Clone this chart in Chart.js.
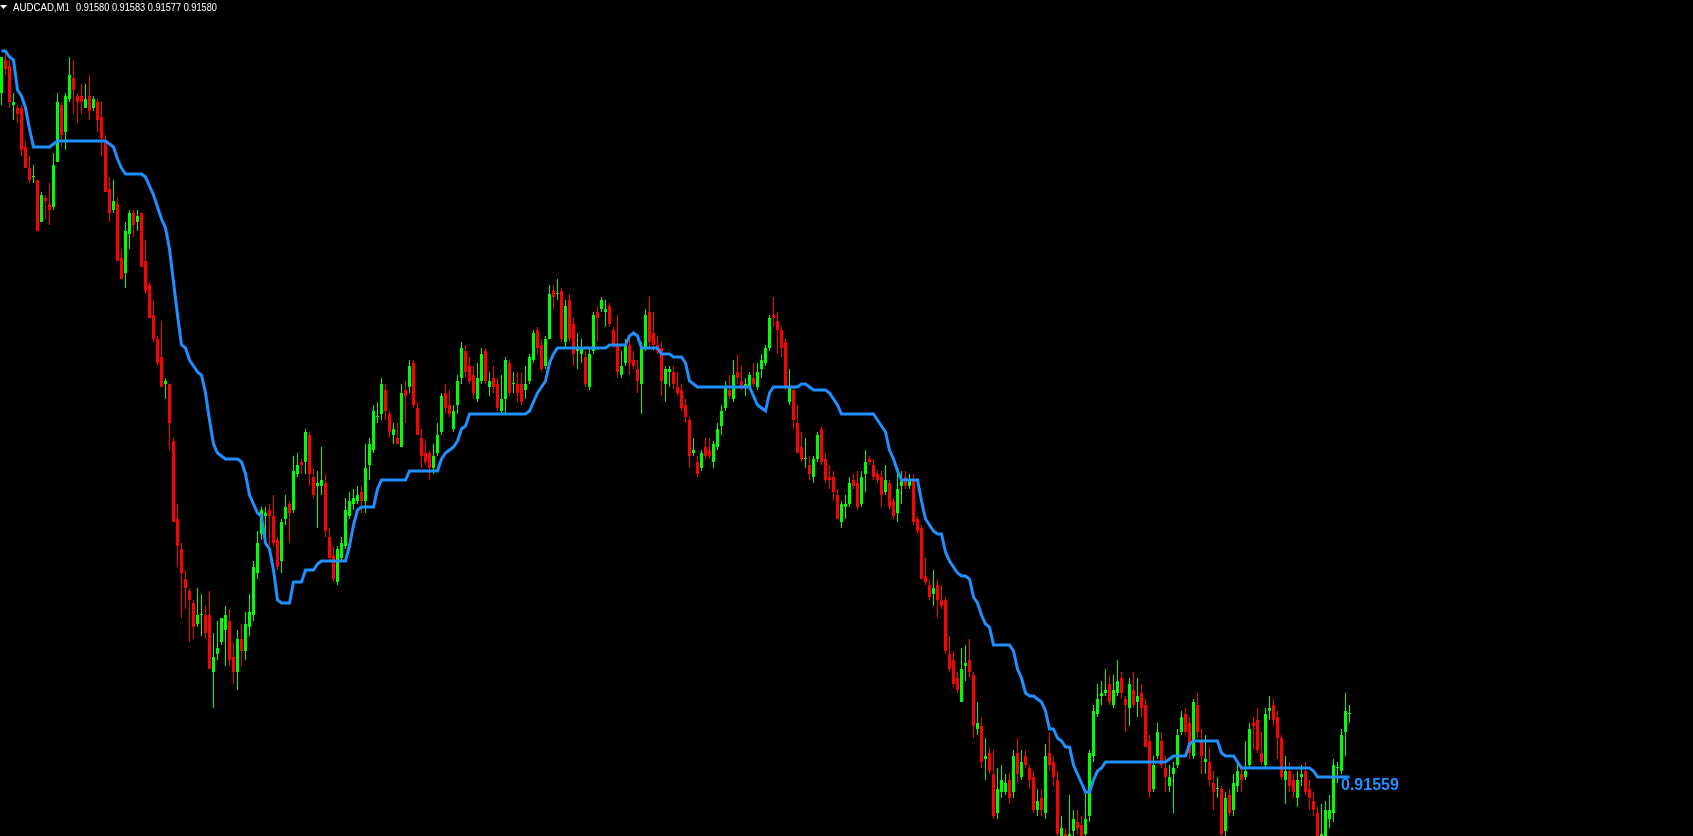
<!DOCTYPE html>
<html>
<head>
<meta charset="utf-8">
<title>AUDCAD,M1</title>
<script src="https://cdn.jsdelivr.net/npm/chart.js@4.4.1/dist/chart.umd.min.js"></script>
<style>
  html, body { margin: 0; padding: 0; background: #000; overflow: hidden; }
  #chart { display: block; }
</style>
</head>
<body>
<canvas id="chart" width="1693" height="836"></canvas>
<script>
// AUDCAD M1, one value per bar, oldest first
var symbol = "AUDCAD,M1";

var open = [
  0.91787,0.91798,0.91796,0.91783,0.91782,0.91782,0.91769,0.91762,0.91759,0.91758,
  0.91744,0.91752,0.91750,0.91749,0.91764,0.91783,0.91774,0.91785,0.91792,0.91786,
  0.91786,0.91782,0.91786,0.91782,0.91784,0.91779,0.91771,0.91755,0.91748,0.91750,
  0.91732,0.91727,0.91740,0.91747,0.91744,0.91747,0.91731,0.91723,0.91713,0.91705,
  0.91699,0.91690,0.91690,0.91671,0.91645,0.91635,0.91625,0.91621,0.91617,0.91610,
  0.91613,0.91613,0.91613,0.91594,0.91600,0.91604,0.91608,0.91611,0.91599,0.91594,
  0.91605,0.91601,0.91609,0.91613,0.91627,0.91640,0.91646,0.91648,0.91646,0.91638,
  0.91631,0.91645,0.91650,0.91648,0.91660,0.91664,0.91664,0.91673,0.91659,0.91656,
  0.91656,0.91657,0.91639,0.91633,0.91624,0.91632,0.91636,0.91646,0.91650,0.91651,
  0.91654,0.91651,0.91663,0.91668,0.91679,0.91680,0.91688,0.91680,0.91673,0.91672,
  0.91669,0.91688,0.91689,0.91697,0.91682,0.91672,0.91667,0.91667,0.91662,0.91667,
  0.91674,0.91687,0.91683,0.91675,0.91683,0.91692,0.91701,0.91696,0.91693,0.91685,
  0.91691,0.91701,0.91689,0.91692,0.91690,0.91681,0.91685,0.91697,0.91690,0.91690,
  0.91690,0.91688,0.91691,0.91698,0.91708,0.91703,0.91696,0.91705,0.91721,0.91720,
  0.91721,0.91704,0.91718,0.91710,0.91701,0.91700,0.91699,0.91689,0.91701,0.91714,
  0.91715,0.91714,0.91716,0.91708,0.91703,0.91693,0.91697,0.91703,0.91698,0.91695,
  0.91690,0.91702,0.91714,0.91707,0.91703,0.91702,0.91690,0.91694,0.91694,0.91689,
  0.91688,0.91683,0.91678,0.91667,0.91664,0.91662,0.91669,0.91668,0.91664,0.91669,
  0.91676,0.91682,0.91688,0.91685,0.91694,0.91691,0.91689,0.91689,0.91692,0.91689,
  0.91695,0.91697,0.91702,0.91713,0.91711,0.91708,0.91704,0.91684,0.91688,0.91677,
  0.91669,0.91665,0.91663,0.91659,0.91665,0.91675,0.91665,0.91659,0.91659,0.91653,
  0.91644,0.91649,0.91650,0.91658,0.91657,0.91650,0.91660,0.91665,0.91663,0.91660,
  0.91659,0.91654,0.91657,0.91651,0.91647,0.91656,0.91659,0.91656,0.91658,0.91645,
  0.91642,0.91626,0.91623,0.91620,0.91623,0.91618,0.91618,0.91600,0.91598,0.91592,
  0.91584,0.91596,0.91598,0.91593,0.91575,0.91576,0.91565,0.91567,0.91560,0.91547,
  0.91554,0.91554,0.91558,0.91554,0.91567,0.91559,0.91566,0.91562,0.91559,0.91548,
  0.91552,0.91547,0.91567,0.91564,0.91558,0.91539,0.91540,0.91538,0.91541,0.91544,
  0.91543,0.91540,0.91546,0.91566,0.91580,0.91586,0.91587,0.91590,0.91583,0.91587,
  0.91592,0.91585,0.91582,0.91588,0.91584,0.91587,0.91583,0.91571,0.91555,0.91566,
  0.91571,0.91562,0.91556,0.91560,0.91563,0.91574,0.91580,0.91577,0.91566,0.91583,
  0.91571,0.91564,0.91564,0.91557,0.91555,0.91555,0.91541,0.91553,0.91548,0.91556,
  0.91560,0.91559,0.91563,0.91577,0.91578,0.91567,0.91563,0.91581,0.91583,0.91579,
  0.91572,0.91558,0.91561,0.91558,0.91552,0.91559,0.91561,0.91555,0.91551,0.91547,
  0.91539,0.91539,0.91545,0.91547,0.91562,0.91561,0.91574,0.91580
];

var high = [
  0.91799,0.91801,0.91798,0.91787,0.91783,0.91783,0.91771,0.91766,0.91763,0.91758,
  0.91754,0.91753,0.91757,0.91767,0.91787,0.91784,0.91787,0.91799,0.91798,0.91787,
  0.91790,0.91790,0.91793,0.91786,0.91785,0.91784,0.91773,0.91759,0.91758,0.91752,
  0.91735,0.91744,0.91748,0.91748,0.91748,0.91747,0.91738,0.91724,0.91718,0.91706,
  0.91711,0.91692,0.91690,0.91672,0.91650,0.91637,0.91628,0.91622,0.91618,0.91622,
  0.91620,0.91616,0.91621,0.91607,0.91611,0.91612,0.91616,0.91615,0.91604,0.91608,
  0.91610,0.91614,0.91620,0.91631,0.91641,0.91649,0.91649,0.91650,0.91653,0.91639,
  0.91645,0.91653,0.91651,0.91666,0.91667,0.91665,0.91675,0.91674,0.91662,0.91661,
  0.91669,0.91660,0.91642,0.91636,0.91636,0.91639,0.91652,0.91654,0.91655,0.91656,
  0.91656,0.91670,0.91672,0.91683,0.91684,0.91692,0.91690,0.91681,0.91677,0.91677,
  0.91690,0.91691,0.91698,0.91698,0.91684,0.91675,0.91671,0.91668,0.91670,0.91677,
  0.91687,0.91690,0.91688,0.91683,0.91693,0.91704,0.91703,0.91699,0.91696,0.91697,
  0.91702,0.91702,0.91694,0.91696,0.91692,0.91693,0.91699,0.91698,0.91694,0.91694,
  0.91694,0.91696,0.91700,0.91708,0.91709,0.91705,0.91706,0.91723,0.91723,0.91725,
  0.91722,0.91718,0.91720,0.91712,0.91707,0.91705,0.91701,0.91702,0.91714,0.91716,
  0.91719,0.91718,0.91717,0.91709,0.91713,0.91701,0.91705,0.91705,0.91701,0.91698,
  0.91704,0.91715,0.91719,0.91714,0.91706,0.91704,0.91696,0.91696,0.91696,0.91694,
  0.91690,0.91685,0.91679,0.91672,0.91666,0.91668,0.91672,0.91672,0.91671,0.91677,
  0.91683,0.91691,0.91693,0.91698,0.91700,0.91696,0.91692,0.91694,0.91697,0.91697,
  0.91700,0.91703,0.91713,0.91719,0.91714,0.91709,0.91705,0.91695,0.91689,0.91683,
  0.91674,0.91672,0.91666,0.91666,0.91674,0.91676,0.91667,0.91663,0.91661,0.91655,
  0.91651,0.91653,0.91659,0.91660,0.91661,0.91661,0.91668,0.91666,0.91665,0.91661,
  0.91661,0.91663,0.91658,0.91652,0.91661,0.91661,0.91661,0.91660,0.91660,0.91646,
  0.91643,0.91632,0.91625,0.91628,0.91625,0.91623,0.91619,0.91606,0.91601,0.91594,
  0.91602,0.91603,0.91605,0.91594,0.91584,0.91579,0.91572,0.91569,0.91568,0.91562,
  0.91563,0.91560,0.91560,0.91568,0.91572,0.91568,0.91568,0.91563,0.91561,0.91555,
  0.91555,0.91570,0.91574,0.91566,0.91561,0.91546,0.91542,0.91553,0.91548,0.91548,
  0.91546,0.91554,0.91568,0.91583,0.91590,0.91591,0.91595,0.91593,0.91593,0.91598,
  0.91594,0.91586,0.91592,0.91594,0.91592,0.91590,0.91585,0.91573,0.91566,0.91577,
  0.91574,0.91566,0.91563,0.91564,0.91575,0.91581,0.91582,0.91579,0.91585,0.91587,
  0.91575,0.91573,0.91569,0.91561,0.91559,0.91556,0.91554,0.91555,0.91560,0.91564,
  0.91563,0.91571,0.91577,0.91579,0.91582,0.91574,0.91582,0.91586,0.91585,0.91581,
  0.91573,0.91566,0.91564,0.91560,0.91561,0.91563,0.91564,0.91558,0.91554,0.91549,
  0.91550,0.91551,0.91553,0.91565,0.91564,0.91575,0.91587,0.91583
];

var low = [
  0.91783,0.91793,0.91782,0.91778,0.91777,0.91766,0.91762,0.91757,0.91757,0.91741,
  0.91744,0.91745,0.91743,0.91748,0.91764,0.91769,0.91768,0.91784,0.91780,0.91777,
  0.91780,0.91782,0.91778,0.91781,0.91774,0.91766,0.91754,0.91744,0.91747,0.91731,
  0.91725,0.91722,0.91735,0.91739,0.91741,0.91729,0.91720,0.91712,0.91704,0.91696,
  0.91689,0.91685,0.91668,0.91644,0.91629,0.91612,0.91615,0.91604,0.91605,0.91609,
  0.91606,0.91605,0.91595,0.91582,0.91598,0.91603,0.91596,0.91596,0.91590,0.91588,
  0.91596,0.91598,0.91606,0.91611,0.91625,0.91638,0.91636,0.91636,0.91636,0.91628,
  0.91627,0.91643,0.91637,0.91647,0.91659,0.91660,0.91660,0.91656,0.91652,0.91642,
  0.91653,0.91639,0.91631,0.91624,0.91623,0.91631,0.91635,0.91645,0.91648,0.91650,
  0.91647,0.91647,0.91658,0.91667,0.91677,0.91678,0.91678,0.91672,0.91670,0.91670,
  0.91669,0.91677,0.91687,0.91682,0.91673,0.91662,0.91663,0.91658,0.91660,0.91666,
  0.91673,0.91680,0.91679,0.91674,0.91680,0.91690,0.91692,0.91690,0.91685,0.91684,
  0.91690,0.91690,0.91686,0.91687,0.91681,0.91680,0.91680,0.91686,0.91687,0.91684,
  0.91683,0.91685,0.91690,0.91697,0.91700,0.91694,0.91695,0.91705,0.91715,0.91718,
  0.91704,0.91702,0.91704,0.91696,0.91695,0.91697,0.91689,0.91688,0.91700,0.91704,
  0.91714,0.91709,0.91709,0.91702,0.91692,0.91692,0.91696,0.91693,0.91695,0.91687,
  0.91680,0.91701,0.91702,0.91701,0.91700,0.91686,0.91684,0.91689,0.91688,0.91686,
  0.91681,0.91677,0.91662,0.91666,0.91659,0.91661,0.91665,0.91665,0.91662,0.91668,
  0.91673,0.91681,0.91685,0.91684,0.91690,0.91688,0.91686,0.91688,0.91689,0.91688,
  0.91692,0.91696,0.91701,0.91709,0.91700,0.91699,0.91688,0.91683,0.91675,0.91667,
  0.91664,0.91662,0.91658,0.91657,0.91664,0.91663,0.91657,0.91655,0.91651,0.91645,
  0.91642,0.91645,0.91649,0.91655,0.91648,0.91649,0.91654,0.91663,0.91658,0.91657,
  0.91649,0.91653,0.91648,0.91645,0.91644,0.91650,0.91655,0.91655,0.91643,0.91640,
  0.91625,0.91623,0.91618,0.91616,0.91612,0.91615,0.91600,0.91594,0.91589,0.91587,
  0.91584,0.91591,0.91592,0.91572,0.91573,0.91562,0.91558,0.91560,0.91545,0.91545,
  0.91552,0.91553,0.91550,0.91552,0.91557,0.91558,0.91562,0.91555,0.91547,0.91546,
  0.91546,0.91545,0.91561,0.91556,0.91539,0.91538,0.91537,0.91537,0.91539,0.91540,
  0.91538,0.91538,0.91544,0.91564,0.91579,0.91583,0.91586,0.91583,0.91582,0.91586,
  0.91585,0.91574,0.91576,0.91582,0.91579,0.91579,0.91569,0.91552,0.91554,0.91565,
  0.91562,0.91554,0.91554,0.91547,0.91562,0.91573,0.91573,0.91565,0.91565,0.91572,
  0.91560,0.91560,0.91556,0.91548,0.91552,0.91539,0.91539,0.91546,0.91546,0.91554,
  0.91554,0.91558,0.91562,0.91568,0.91567,0.91563,0.91562,0.91578,0.91576,0.91565,
  0.91558,0.91550,0.91554,0.91552,0.91549,0.91556,0.91553,0.91548,0.91546,0.91536,
  0.91536,0.91536,0.91542,0.91544,0.91557,0.91560,0.91566,0.91577
];

var close = [
  0.91799,0.91795,0.91784,0.91784,0.91780,0.91768,0.91762,0.91758,0.91759,0.91741,
  0.91753,0.91751,0.91748,0.91763,0.91784,0.91773,0.91786,0.91793,0.91788,0.91784,
  0.91784,0.91785,0.91781,0.91785,0.91778,0.91772,0.91754,0.91747,0.91751,0.91731,
  0.91725,0.91741,0.91747,0.91743,0.91746,0.91729,0.91721,0.91712,0.91705,0.91697,
  0.91689,0.91691,0.91677,0.91644,0.91636,0.91627,0.91622,0.91618,0.91609,0.91613,
  0.91613,0.91607,0.91595,0.91599,0.91602,0.91612,0.91613,0.91598,0.91594,0.91605,
  0.91601,0.91610,0.91614,0.91629,0.91637,0.91648,0.91647,0.91646,0.91637,0.91629,
  0.91644,0.91649,0.91647,0.91661,0.91663,0.91663,0.91674,0.91660,0.91653,0.91657,
  0.91658,0.91641,0.91632,0.91625,0.91635,0.91637,0.91648,0.91651,0.91652,0.91653,
  0.91651,0.91662,0.91670,0.91681,0.91679,0.91690,0.91681,0.91674,0.91675,0.91670,
  0.91687,0.91686,0.91696,0.91683,0.91673,0.91666,0.91664,0.91662,0.91666,0.91673,
  0.91686,0.91682,0.91680,0.91681,0.91691,0.91702,0.91694,0.91691,0.91687,0.91692,
  0.91700,0.91691,0.91691,0.91689,0.91682,0.91685,0.91698,0.91687,0.91690,0.91687,
  0.91684,0.91690,0.91699,0.91707,0.91702,0.91695,0.91705,0.91720,0.91719,0.91720,
  0.91705,0.91716,0.91705,0.91700,0.91702,0.91702,0.91690,0.91700,0.91713,0.91712,
  0.91718,0.91715,0.91710,0.91703,0.91694,0.91696,0.91703,0.91697,0.91696,0.91691,
  0.91702,0.91713,0.91704,0.91703,0.91701,0.91691,0.91695,0.91695,0.91690,0.91687,
  0.91682,0.91679,0.91666,0.91668,0.91660,0.91667,0.91666,0.91666,0.91670,0.91675,
  0.91681,0.91689,0.91686,0.91693,0.91692,0.91689,0.91690,0.91693,0.91690,0.91694,
  0.91698,0.91702,0.91712,0.91712,0.91708,0.91702,0.91689,0.91689,0.91678,0.91667,
  0.91665,0.91665,0.91660,0.91665,0.91673,0.91664,0.91658,0.91658,0.91654,0.91645,
  0.91650,0.91650,0.91657,0.91656,0.91649,0.91659,0.91664,0.91664,0.91659,0.91658,
  0.91653,0.91658,0.91649,0.91646,0.91655,0.91658,0.91656,0.91658,0.91644,0.91641,
  0.91625,0.91624,0.91619,0.91622,0.91618,0.91616,0.91601,0.91595,0.91590,0.91588,
  0.91595,0.91597,0.91594,0.91576,0.91577,0.91564,0.91566,0.91561,0.91546,0.91555,
  0.91558,0.91557,0.91552,0.91566,0.91560,0.91564,0.91563,0.91558,0.91548,0.91551,
  0.91548,0.91566,0.91563,0.91559,0.91540,0.91542,0.91538,0.91540,0.91545,0.91542,
  0.91539,0.91545,0.91567,0.91581,0.91585,0.91587,0.91588,0.91584,0.91588,0.91591,
  0.91587,0.91583,0.91590,0.91583,0.91586,0.91582,0.91569,0.91554,0.91563,0.91574,
  0.91563,0.91559,0.91559,0.91562,0.91573,0.91579,0.91574,0.91567,0.91584,0.91574,
  0.91566,0.91565,0.91558,0.91554,0.91555,0.91540,0.91552,0.91547,0.91557,0.91561,
  0.91558,0.91561,0.91575,0.91576,0.91568,0.91564,0.91580,0.91582,0.91578,0.91572,
  0.91559,0.91561,0.91556,0.91554,0.91558,0.91560,0.91554,0.91552,0.91548,0.91539,
  0.91540,0.91548,0.91548,0.91563,0.91562,0.91573,0.91581,0.91580
];

// the blue indicator line
var line = [
  0.91801,0.91801,0.91799,0.91798,0.91788,0.91786,0.91782,0.91775,0.91769,0.91769,
  0.91769,0.91769,0.91769,0.91770,0.91771,0.91771,0.91771,0.91771,0.91771,0.91771,
  0.91771,0.91771,0.91771,0.91771,0.91771,0.91771,0.91771,0.91770,0.91769,0.91765,
  0.91762,0.91760,0.91760,0.91760,0.91760,0.91760,0.91759,0.91756,0.91753,0.91749,
  0.91745,0.91742,0.91735,0.91724,0.91713,0.91703,0.91702,0.91698,0.91696,0.91694,
  0.91693,0.91687,0.91678,0.91670,0.91667,0.91666,0.91665,0.91665,0.91665,0.91665,
  0.91664,0.91660,0.91653,0.91650,0.91647,0.91646,0.91637,0.91635,0.91628,0.91618,
  0.91617,0.91617,0.91617,0.91624,0.91624,0.91624,0.91628,0.91628,0.91628,0.91630,
  0.91631,0.91631,0.91631,0.91631,0.91631,0.91631,0.91631,0.91636,0.91643,0.91648,
  0.91649,0.91649,0.91649,0.91649,0.91655,0.91658,0.91658,0.91658,0.91658,0.91658,
  0.91658,0.91658,0.91661,0.91661,0.91661,0.91661,0.91661,0.91661,0.91661,0.91661,
  0.91665,0.91667,0.91668,0.91669,0.91671,0.91675,0.91676,0.91680,0.91680,0.91680,
  0.91680,0.91680,0.91680,0.91680,0.91680,0.91680,0.91680,0.91680,0.91680,0.91680,
  0.91680,0.91680,0.91681,0.91684,0.91687,0.91689,0.91691,0.91697,0.91700,0.91702,
  0.91702,0.91702,0.91702,0.91702,0.91702,0.91702,0.91702,0.91702,0.91702,0.91702,
  0.91702,0.91702,0.91703,0.91703,0.91703,0.91703,0.91703,0.91706,0.91707,0.91706,
  0.91702,0.91702,0.91702,0.91702,0.91702,0.91700,0.91700,0.91700,0.91699,0.91699,
  0.91699,0.91697,0.91691,0.91690,0.91689,0.91689,0.91689,0.91689,0.91689,0.91689,
  0.91689,0.91689,0.91689,0.91689,0.91689,0.91689,0.91689,0.91689,0.91686,0.91683,
  0.91682,0.91681,0.91687,0.91689,0.91689,0.91689,0.91689,0.91689,0.91689,0.91689,
  0.91690,0.91690,0.91689,0.91688,0.91688,0.91688,0.91688,0.91687,0.91685,0.91683,
  0.91680,0.91680,0.91680,0.91680,0.91680,0.91680,0.91680,0.91680,0.91680,0.91678,
  0.91676,0.91674,0.91668,0.91665,0.91661,0.91658,0.91658,0.91658,0.91658,0.91658,
  0.91651,0.91645,0.91643,0.91641,0.91640,0.91640,0.91634,0.91631,0.91629,0.91627,
  0.91626,0.91626,0.91625,0.91619,0.91617,0.91613,0.91610,0.91609,0.91603,0.91603,
  0.91603,0.91603,0.91603,0.91601,0.91595,0.91592,0.91587,0.91586,0.91586,0.91585,
  0.91584,0.91581,0.91575,0.91575,0.91572,0.91571,0.91569,0.91569,0.91563,0.91560,
  0.91557,0.91554,0.91554,0.91558,0.91561,0.91562,0.91564,0.91564,0.91564,0.91564,
  0.91564,0.91564,0.91564,0.91564,0.91564,0.91564,0.91564,0.91564,0.91564,0.91564,
  0.91564,0.91564,0.91565,0.91566,0.91566,0.91566,0.91566,0.91570,0.91571,0.91571,
  0.91571,0.91571,0.91571,0.91571,0.91571,0.91567,0.91566,0.91566,0.91566,0.91564,
  0.91562,0.91562,0.91562,0.91562,0.91562,0.91562,0.91562,0.91562,0.91562,0.91562,
  0.91562,0.91562,0.91562,0.91562,0.91562,0.91562,0.91562,0.91562,0.91561,0.91559,
  0.91559,0.91559,0.91559,0.91559,0.91559,0.91559,0.91559,0.91559
];

var bull = '#00ff00', bear = '#ff0000', blue = '#1e90ff';

var colors = close.map(function (c, i) { return c >= open[i] ? bull : bear; });
var wicks = low.map(function (l, i) { return {x: i, y: [l, high[i]]}; });
var bodies = open.map(function (o, i) { return {x: i, y: [o, close[i]]}; });
var levels = line.map(function (v, i) { return {x: i, y: v}; });
var last = close.length - 1;

// header text top left and the indicator value at the end of the line
var labels = {
  id: 'labels',
  afterDraw: function (chart) {
    var ctx = chart.ctx;
    ctx.save();
    ctx.fillStyle = '#ffffff';
    ctx.beginPath();
    ctx.moveTo(0, 5); ctx.lineTo(7, 5); ctx.lineTo(3.5, 9); ctx.closePath();
    ctx.fill();
    ctx.font = '11px "Liberation Sans", Arial, sans-serif';
    ctx.textBaseline = 'alphabetic';
    ctx.fillText(symbol, 13, 11, 57);
    var ohlc = [open[last], high[last], low[last], close[last]].map(function (v) { return v.toFixed(5); }).join(' ');
    ctx.fillText(ohlc, 76, 11, 141);

    var x = chart.scales.x.getPixelForValue(last);
    var y = chart.scales.y.getPixelForValue(line[last]);
    ctx.fillStyle = blue;
    ctx.font = 'bold 16px "Liberation Sans", Arial, sans-serif';
    ctx.fillText(line[last].toFixed(5), x - 8.5, y + 13);
    ctx.restore();
  }
};

new Chart(document.getElementById('chart'), {
  type: 'bar',
  data: {
    datasets: [
      {type: 'line', data: levels, borderColor: blue, borderWidth: 3, pointRadius: 0, tension: 0, order: 0},
      {data: bodies, backgroundColor: colors, barThickness: 3, minBarLength: 1, inflateAmount: 0, grouped: false, order: 1},
      {data: wicks, backgroundColor: colors, barThickness: 1, inflateAmount: 0, grouped: false, order: 2}
    ]
  },
  options: {
    responsive: false,
    animation: false,
    events: [],
    layout: {padding: 0},
    plugins: {legend: {display: false}, tooltip: {enabled: false}},
    scales: {
      x: {type: 'linear', display: false, offset: false, min: -0.375, max: 422.875},
      y: {display: false, min: 0.9153933, max: 0.91818}
    }
  },
  plugins: [labels]
});
</script>
</body>
</html>
